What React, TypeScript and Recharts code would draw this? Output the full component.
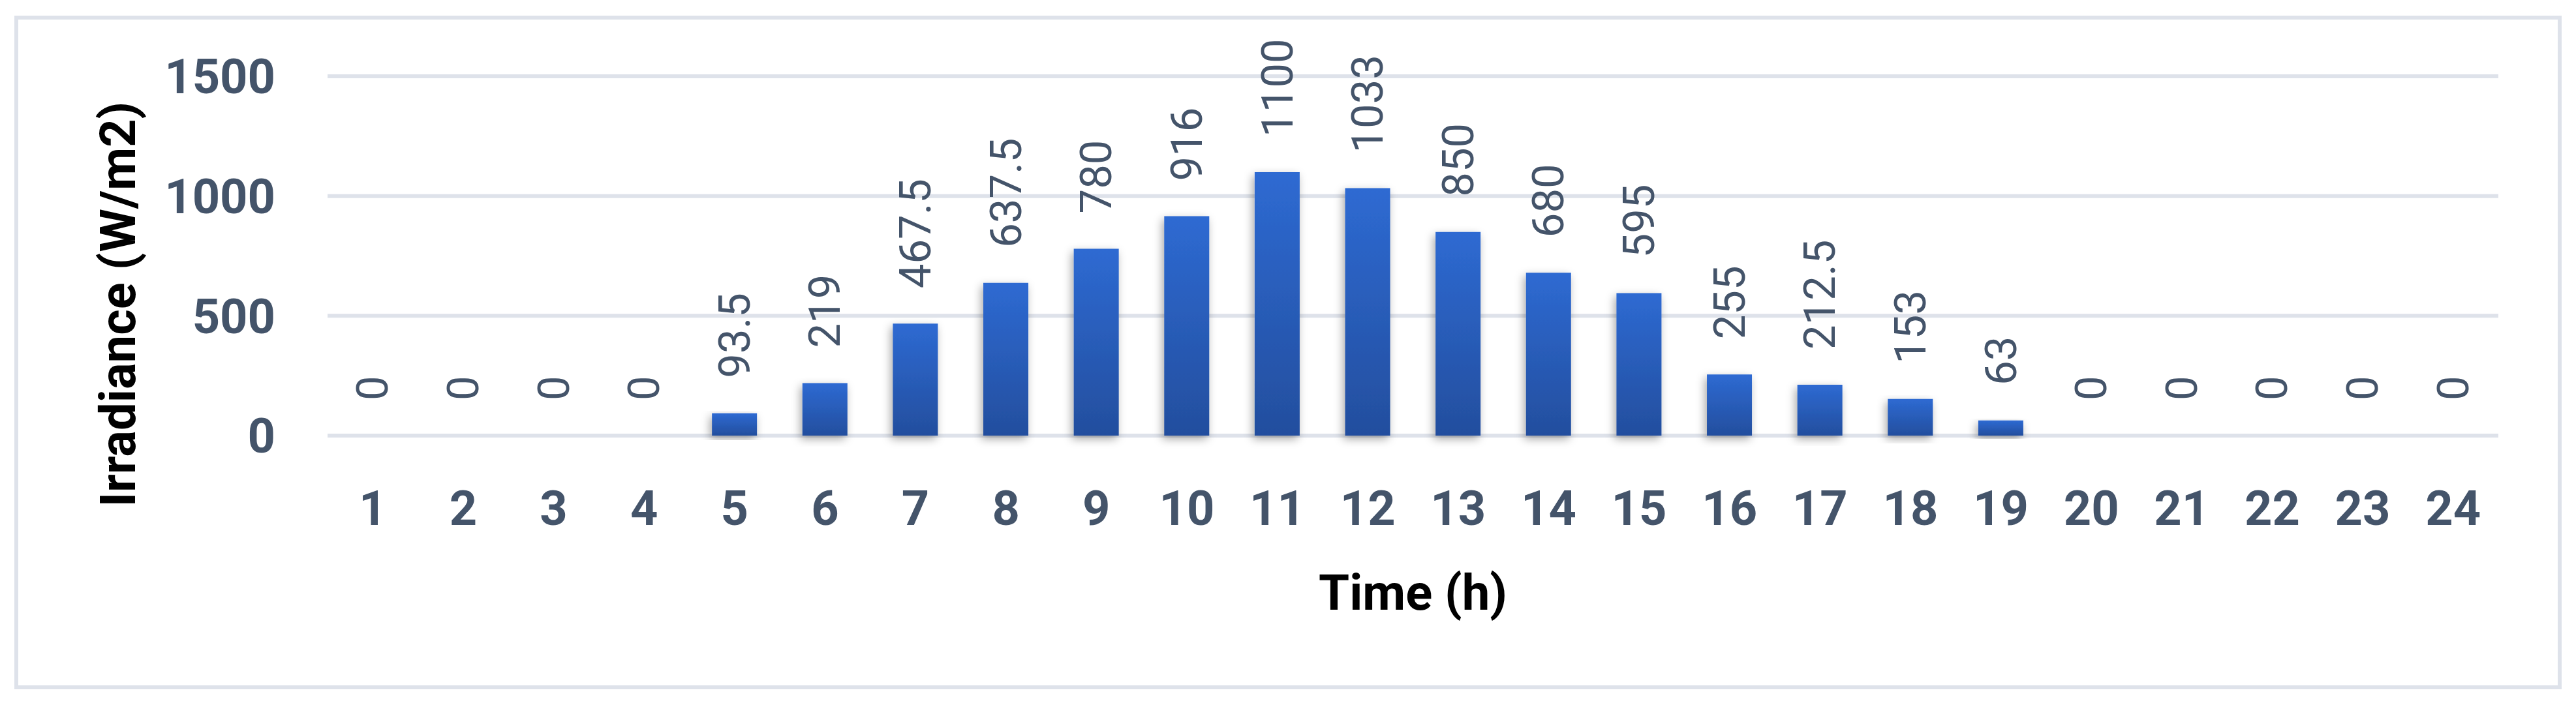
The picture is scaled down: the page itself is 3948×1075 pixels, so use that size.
import React from 'react';
import { ComposedChart, Bar, Line, XAxis, YAxis, CartesianGrid, LabelList } from 'recharts';

const hours = ['1','2','3','4','5','6','7','8','9','10','11','12','13','14','15','16','17','18','19','20','21','22','23','24'];
const irradiance = [0,0,0,0,93.5,219,467.5,637.5,780,916,1100,1033,850,680,595,255,212.5,153,63,0,0,0,0,0];
const yTicks = [0, 500, 1000, 1500];

const data = hours.map((h, i) => ({ hour: h, value: irradiance[i] }));

const TEXT = '#44546A';
const GRID = '#DEE2EA';
const FONT = 'Roboto, "Open Sans", sans-serif';

const renderValueLabel = (props: any) => {
  const { x, y, value } = props;
  const cx = Number(x);
  const cy = Number(y) - 54;
  return (
    <text
      transform={`translate(${cx}, ${cy}) rotate(-90)`}
      textAnchor="start"
      dominantBaseline="central"
      fill={TEXT}
      fontSize={67}
      fontFamily={FONT}
    >
      {String(value)}
    </text>
  );
};

const YTitle = (props: any) => {
  const vb = props.viewBox || {};
  const cx = vb.x - 221;
  const cy = vb.y + vb.height / 2 + 74;
  return (
    <text
      transform={`translate(${cx}, ${cy}) rotate(-90)`}
      textAnchor="middle"
      dominantBaseline="central"
      fill="#000"
      fontSize={76}
      fontWeight={700}
      fontFamily={FONT}
    >
      Irradiance (W/m2)
    </text>
  );
};

const XTitle = (props: any) => {
  const vb = props.viewBox || {};
  const cx = vb.x + vb.width / 2;
  return (
    <text
      x={cx}
      y={935}
      textAnchor="middle"
      fill="#000"
      fontSize={76}
      fontWeight={700}
      fontFamily={FONT}
    >
      Time (h)
    </text>
  );
};

export default function App() {
  return (
    <div style={{ position: 'absolute', left: 0, top: 0, width: 3948, height: 1075, background: '#fff' }}>
      <div
        style={{
          position: 'absolute',
          left: 22,
          top: 24,
          width: 3904,
          height: 1033,
          boxSizing: 'border-box',
          border: `6px solid ${GRID}`,
        }}
      />
      <div style={{ position: 'absolute', left: 0, top: 0 }}>
        <ComposedChart
          width={3948}
          height={1075}
          data={data}
          margin={{ top: 117, right: 119, bottom: 307, left: 402 }}
          barCategoryGap="25%"
        >
          <defs>
            <linearGradient id="barGrad" x1="0" y1="0" x2="0" y2="1">
              <stop offset="0%" stopColor="#2E6AD2" />
              <stop offset="100%" stopColor="#234E9E" />
            </linearGradient>
            <filter id="barShadow" x="-50%" y="-10%" width="200%" height="130%">
              <feDropShadow dx="-3" dy="5" stdDeviation="7" floodColor="#000" floodOpacity="0.35" />
            </filter>
          </defs>
          <CartesianGrid vertical={false} stroke={GRID} strokeWidth={6} />
          <XAxis
            dataKey="hour"
            axisLine={false}
            tickLine={false}
            tickSize={0}
            tickMargin={84}
            height={100}
            interval={0}
            tick={{ fill: TEXT, fontSize: 74, fontWeight: 700, fontFamily: FONT }}
            label={{ content: XTitle }}
          />
          <YAxis
            domain={[0, 1500]}
            ticks={yTicks}
            axisLine={false}
            tickLine={false}
            tickSize={0}
            tickMargin={80}
            width={100}
            tick={{ fill: TEXT, fontSize: 74, fontWeight: 700, fontFamily: FONT }}
            label={{ content: YTitle }}
          />
          <Bar dataKey="value" fill="url(#barGrad)" filter="url(#barShadow)" isAnimationActive={false} />
          <Line
            dataKey="value"
            stroke="none"
            dot={false}
            activeDot={false}
            legendType="none"
            isAnimationActive={false}
          >
            <LabelList dataKey="value" content={renderValueLabel} />
          </Line>
        </ComposedChart>
      </div>
    </div>
  );
}
